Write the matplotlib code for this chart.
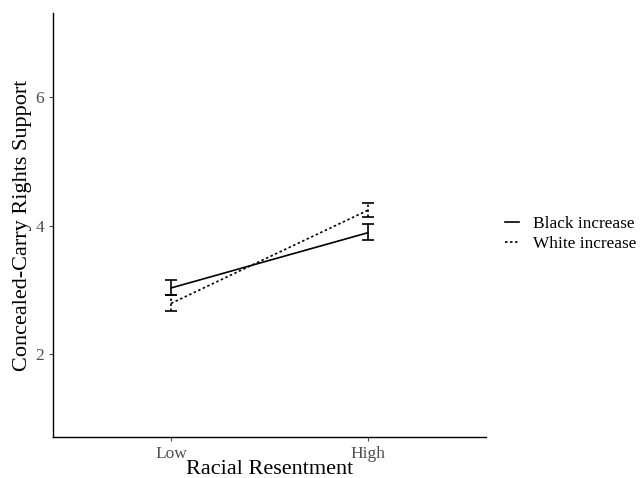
import numpy as np
import matplotlib
matplotlib.use("Agg")
import matplotlib.pyplot as plt

plt.rcParams['font.family'] = ['Liberation Serif', 'DejaVu Serif']

levels = ["Low", "High"]
groups = ["Black increase", "White increase"]
means = {"Black increase": [3.03, 3.89], "White increase": [2.79, 4.24]}
lower = {"Black increase": [2.92, 3.77], "White increase": [2.67, 4.13]}
upper = {"Black increase": [3.15, 4.02], "White increase": [2.92, 4.35]}
styles = {"Black increase": "-", "White increase": (0, (1.5, 1.5))}

fig = plt.figure(figsize=(6.42, 4.78), dpi=100)
ax = fig.add_axes([53 / 642, 41 / 478, 433 / 642, 424 / 478])

x = np.arange(1, len(levels) + 1)
for g in groups:
    m = np.array(means[g])
    lo = m - np.array(lower[g])
    hi = np.array(upper[g]) - m
    ax.plot(x, m, color="black", linestyle=styles[g], linewidth=1.2, label=g)
    eb = ax.errorbar(x, m, yerr=[lo, hi], fmt="none", ecolor="black",
                     elinewidth=1.2, capsize=4.5, capthick=1.2)
    eb[2][0].set_linestyle(styles[g])

ax.set_xlim(0.4, 2.6)
ax.set_ylim(0.71, 7.31)
ax.set_xticks(x)
ax.set_xticklabels(levels)
ax.set_yticks([2, 4, 6])
ax.tick_params(axis="both", colors="#4D4D4D", labelsize=12.5, length=3, width=0.8)
for s in ["top", "right"]:
    ax.spines[s].set_visible(False)
for s in ["left", "bottom"]:
    ax.spines[s].set_linewidth(1.0)
    ax.spines[s].set_color("black")

ax.set_xlabel("Racial Resentment", fontsize=16, labelpad=-1.5)
ax.set_ylabel("Concealed-Carry Rights Support", fontsize=16, labelpad=2)

leg = fig.legend(loc="center left", bbox_to_anchor=(489 / 642, 244 / 478),
                 frameon=False, fontsize=12.4, handlelength=0.85,
                 handletextpad=0.8, labelspacing=0.2)

fig.savefig("out.png", dpi=100)
